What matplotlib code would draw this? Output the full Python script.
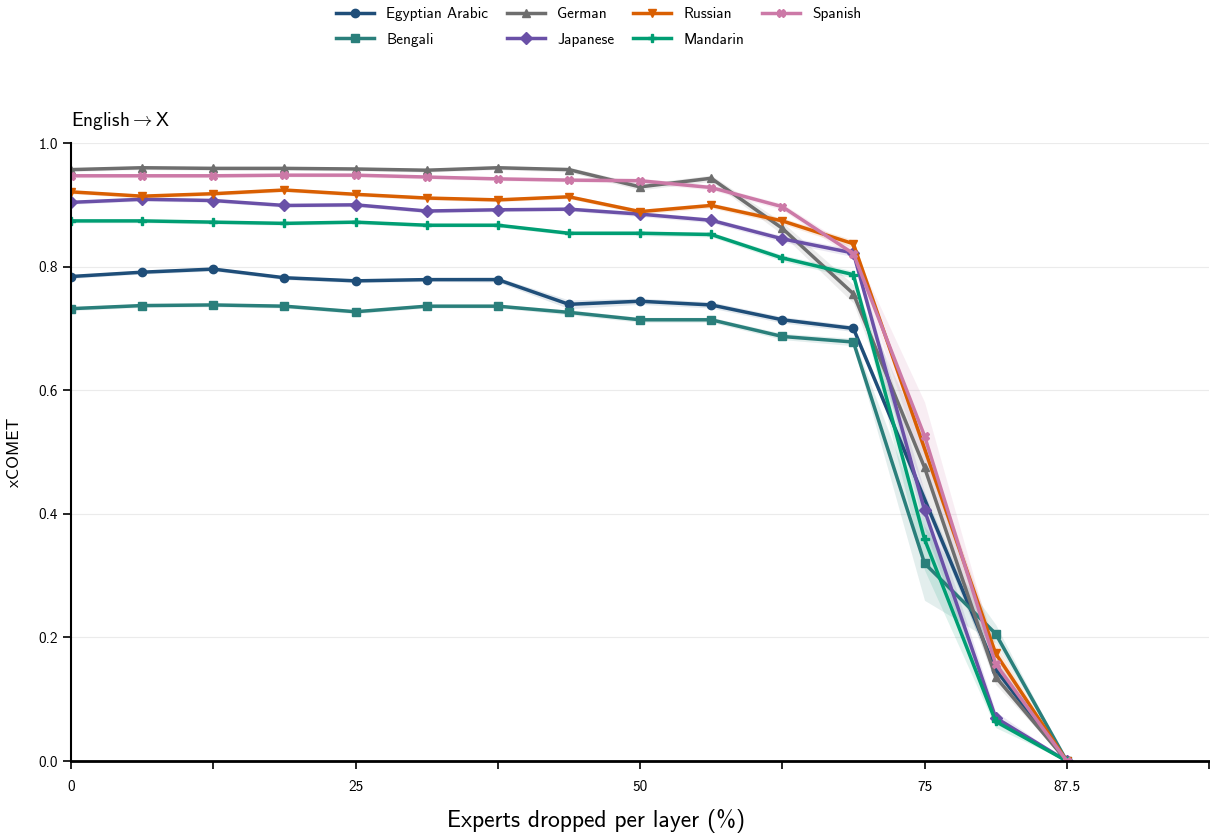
import numpy as np
import matplotlib
matplotlib.use("Agg")
from matplotlib import pyplot as plt

plt.rcParams['font.family'] = ['cmss10', 'DejaVu Sans']
plt.rcParams['mathtext.fontset'] = 'cm'
plt.rcParams['axes.unicode_minus'] = False

# experts dropped per layer (%)
x_pct = [0, 6.25, 12.5, 18.75, 25, 31.25, 37.5, 43.75, 50, 56.25, 62.5, 68.75, 75, 81.25, 87.5]
nan = np.nan

# mean xCOMET, English -> X
egyptian = [0.784, 0.791, 0.796, 0.782, 0.777, 0.779, 0.779, 0.739, 0.744, 0.738, 0.714, 0.700, nan, 0.148, 0.0]
bengali = [0.732, 0.737, 0.738, 0.736, 0.727, 0.736, 0.736, 0.726, 0.714, 0.714, 0.687, 0.678, 0.320, 0.206, 0.0]
german = [0.957, 0.960, 0.959, 0.959, 0.958, 0.956, 0.960, 0.957, 0.929, 0.943, 0.862, 0.756, 0.475, 0.136, 0.0]
japanese = [0.904, 0.909, 0.907, 0.899, 0.900, 0.890, 0.892, 0.893, 0.885, 0.875, 0.845, 0.822, 0.406, 0.070, 0.0]
russian = [0.921, 0.914, 0.918, 0.924, 0.917, 0.911, 0.908, 0.913, 0.889, 0.899, 0.874, 0.837, nan, 0.174, 0.0]
mandarin = [0.874, 0.874, 0.872, 0.870, 0.872, 0.867, 0.867, 0.854, 0.854, 0.852, 0.814, 0.787, 0.359, 0.064, 0.0]
spanish = [0.947, 0.947, 0.947, 0.948, 0.948, 0.945, 0.942, 0.940, 0.939, 0.928, 0.897, 0.821, 0.526, 0.157, 0.0]

# half-width of the confidence band
egyptian_ci = [0.003, 0.003, 0.003, 0.003, 0.003, 0.003, 0.004, 0.007, 0.005, 0.005, 0.005, 0.005, nan, 0.015, 0.0]
bengali_ci = [0.003, 0.003, 0.003, 0.003, 0.003, 0.003, 0.003, 0.004, 0.004, 0.004, 0.005, 0.006, 0.060, 0.015, 0.0]
german_ci = [0.003, 0.003, 0.003, 0.003, 0.003, 0.003, 0.003, 0.004, 0.005, 0.005, 0.010, 0.015, 0.040, 0.012, 0.0]
japanese_ci = [0.003, 0.003, 0.003, 0.003, 0.003, 0.003, 0.003, 0.003, 0.004, 0.004, 0.005, 0.006, 0.030, 0.010, 0.0]
russian_ci = [0.003, 0.003, 0.003, 0.003, 0.003, 0.003, 0.003, 0.003, 0.004, 0.004, 0.005, 0.006, nan, 0.015, 0.0]
mandarin_ci = [0.003, 0.003, 0.003, 0.003, 0.003, 0.003, 0.003, 0.003, 0.004, 0.004, 0.005, 0.006, 0.050, 0.010, 0.0]
spanish_ci = [0.003, 0.003, 0.003, 0.003, 0.003, 0.003, 0.003, 0.003, 0.004, 0.004, 0.005, 0.008, 0.055, 0.015, 0.0]

series = [
    ('Egyptian Arabic', egyptian, egyptian_ci, '#1f4e79', 'o'),
    ('Bengali', bengali, bengali_ci, '#2a7f7b', 's'),
    ('German', german, german_ci, '#6e6e6e', '^'),
    ('Japanese', japanese, japanese_ci, '#6a50a7', 'D'),
    ('Russian', russian, russian_ci, '#d95f02', 'v'),
    ('Mandarin', mandarin, mandarin_ci, '#009e73', 'P'),
    ('Spanish', spanish, spanish_ci, '#cc79a7', 'X'),
]

fig = plt.figure(figsize=(12.1, 8.34), dpi=100)
ax = fig.add_axes([0.0587, 0.0875, 0.9405, 0.741])

x = np.array(x_pct)
for name, vals, ci, color, marker in series:
    y = np.array(vals)
    e = np.array(ci)
    ok = ~np.isnan(y)
    ax.fill_between(x[ok], y[ok] - e[ok], y[ok] + e[ok], color=color, alpha=0.13, lw=0)
    ax.plot(x[ok], y[ok], color=color, marker=marker, lw=2.5, ms=6, label=name)

ax.set_xlim(0, 100)
ax.set_ylim(0, 1.0)
ax.set_xticks([0, 12.5, 25, 37.5, 50, 62.5, 75, 87.5, 100])
ax.set_xticklabels(['0', '', '25', '', '50', '', '75', '87.5', ''])
ax.set_yticks([0, 0.2, 0.4, 0.6, 0.8, 1.0])
ax.set_yticklabels(['0.0', '0.2', '0.4', '0.6', '0.8', '1.0'])
ax.tick_params(axis='both', labelsize=11, direction='out', length=6, width=1.2)
ax.tick_params(axis='x', pad=8)
ax.grid(axis='y', color='#ebebeb', lw=0.8)
ax.set_axisbelow(True)

for s in ['top', 'right']:
    ax.spines[s].set_visible(False)
ax.spines['bottom'].set_linewidth(2)
ax.spines['left'].set_linewidth(1.5)

ax.set_xlabel('Experts dropped per layer (%)', fontsize=17)
ax.xaxis.set_label_coords(0.461, -0.077)
ax.set_ylabel('xCOMET', fontsize=12.5, labelpad=12)
ax.set_title('English$\\rightarrow$X', loc='left', fontsize=14, pad=12)

fig.legend(loc='upper center', bbox_to_anchor=(0.495, 1.008), ncol=4, frameon=False,
           fontsize=11, handlelength=2.5, columnspacing=1.2, labelspacing=0.75)

fig.savefig('out.png', dpi=100)
